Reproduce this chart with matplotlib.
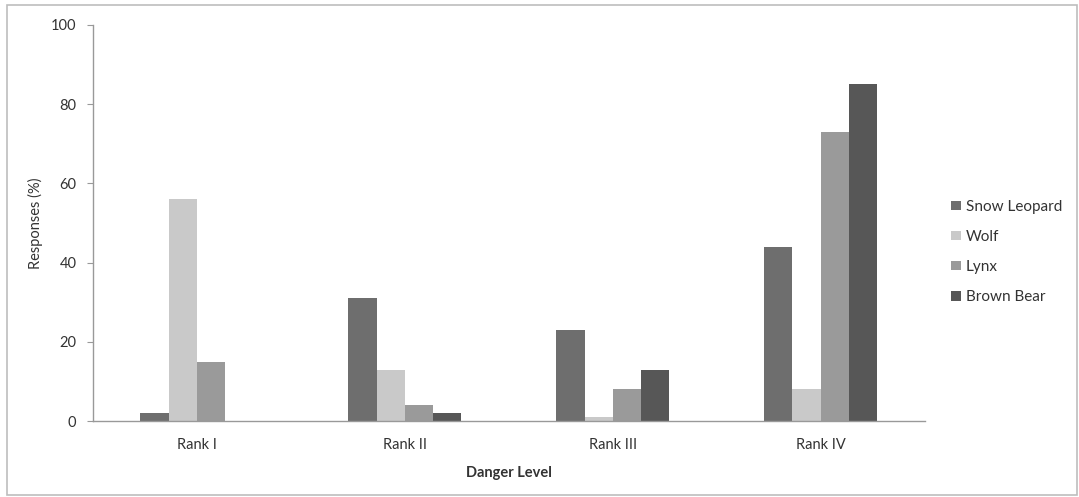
import numpy as np
import matplotlib
matplotlib.use("Agg")
import matplotlib.pyplot as plt
from matplotlib.patches import Rectangle

plt.rcParams['font.family'] = ['Lato', 'DejaVu Sans']

categories = ["Rank I", "Rank II", "Rank III", "Rank IV"]
series_names = ["Snow Leopard", "Wolf", "Lynx", "Brown Bear"]
snow_leopard = [2, 31, 23, 44]
wolf = [56, 13, 1, 8]
lynx = [15, 4, 8, 73]
brown_bear = [0, 2, 13, 85]
values = [snow_leopard, wolf, lynx, brown_bear]
colors = ["#6e6e6e", "#c9c9c9", "#9a9a9a", "#575757"]

fig = plt.figure(figsize=(10.79, 4.97), dpi=100)
ax = fig.add_axes([0.0862, 0.1529, 0.857 - 0.0862, 0.9497 - 0.1529])

x = np.arange(len(categories))
width = 0.136
for i, (name, vals, col) in enumerate(zip(series_names, values, colors)):
    offs = (i - 1.5) * width
    ax.bar(x + offs, vals, width, color=col, label=name, linewidth=0)

ax.set_xlim(-0.5, len(categories) - 0.5)
ax.set_ylim(0, 100)
ax.set_yticks([0, 20, 40, 60, 80, 100])
ax.set_xticks(x)
ax.set_xticklabels(categories, fontsize=10.5, color="#333333")
ax.tick_params(axis='x', length=0, pad=12)
ax.tick_params(axis='y', length=4, direction='out', color="#999999",
               labelsize=10.5, labelcolor="#333333", pad=8)
for s in ["top", "right"]:
    ax.spines[s].set_visible(False)
ax.spines["left"].set_color("#999999")
ax.spines["bottom"].set_color("#999999")
ax.spines["left"].set_linewidth(1.0)
ax.spines["bottom"].set_linewidth(1.0)

ax.set_ylabel("Responses (%)", fontsize=10.5, color="#333333", labelpad=6)
ax.set_xlabel("Danger Level", fontsize=10.5, fontweight="bold", color="#333333", labelpad=10)

leg = fig.legend(loc="center left", bbox_to_anchor=(0.869, 0.493), frameon=False,
                 fontsize=11, handlelength=0.6, handleheight=0.6, handletextpad=0.35,
                 labelspacing=1.05, labelcolor="#333333")

fig.patches.append(Rectangle((7 / 1079, 2 / 497), (1077 - 7) / 1079, (492 - 2) / 497,
                             transform=fig.transFigure, fill=False,
                             edgecolor="#bdbdbd", linewidth=1.2))

fig.savefig("out.png", dpi=100)
